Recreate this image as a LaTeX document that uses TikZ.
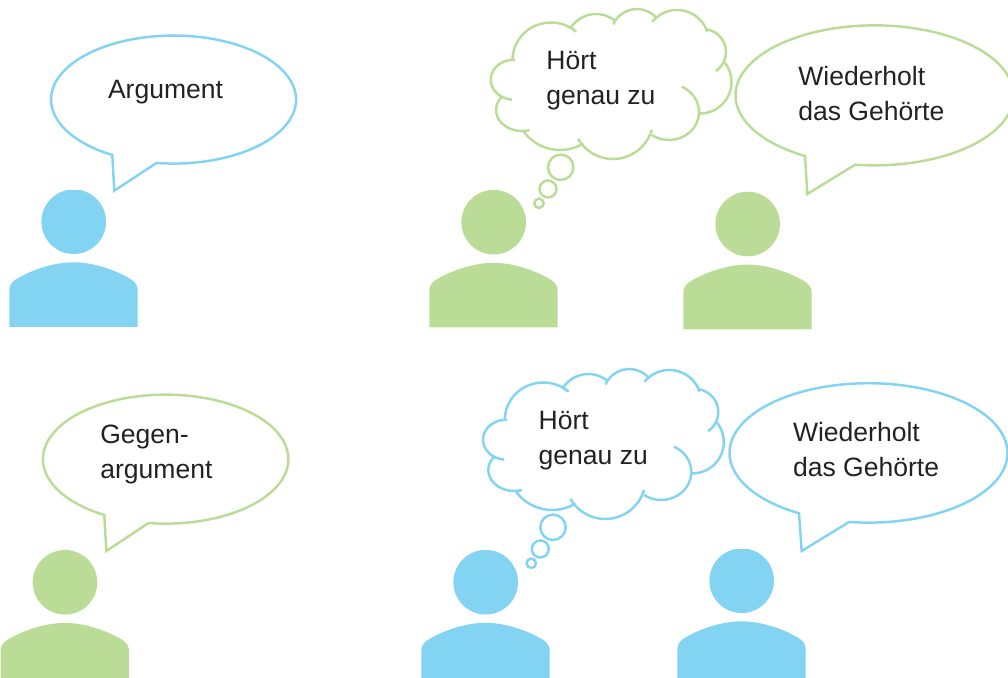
\documentclass[tikz,border=0pt]{standalone}
\usepackage{fontspec}
\setmainfont{Liberation Sans}
\usetikzlibrary{positioning}
\definecolor{myblue}{HTML}{83D3F2}
\definecolor{mygreen}{HTML}{BBDC96}
\definecolor{mytext}{HTML}{222222}

\tikzset{
  saying/.style={anchor=base west, inner sep=0pt, align=left, text=mytext, font=\fontsize{15.1}{20}\selectfont},
  outline/.style={line width=1.4pt, line join=miter}
}

% #1 colour, #2 shift, #3 where the head is cut off
\newcommand{\person}[3]{
  \begin{scope}[shift={#2}]
    \begin{scope}
      \clip (0,#3) rectangle (150,260);
      \fill[#1] (73.7,221.7) circle[radius=32.3];
    \end{scope}
    \fill[#1] (9.3,327) -- (9.3,291) .. controls (9.3,286) and (11,283) .. (15,280) .. controls (28,271.5) and (52,262.3) .. (73.5,262.3) .. controls (95,262.3) and (119,271.5) .. (132,280) .. controls (136,283) and (137.7,286) .. (137.7,291) -- (137.7,327) -- cycle;
  \end{scope}
}

% #1 centre, #2 x radius, #3 y radius, #4 start, #5 end
\newcommand{\lobe}[5]{
  \draw #1 ++(#4:#2 and #3) arc[start angle=#4, end angle=#5, x radius=#2, y radius=#3];
}

% #1 colour, #2 shift
\newcommand{\thought}[2]{
  \begin{scope}[shift={#2}, outline, draw=#1]
    \lobe{(551,60)}{38.5}{37.5}{-49}{-178}
    \lobe{(514,79.7)}{23.3}{20}{-88}{-265}
    \lobe{(522,110)}{26}{21}{218}{73}
    \lobe{(560,105)}{45}{45}{145}{59}
    \lobe{(613,118.7)}{40.3}{40.3}{150}{16}
    \lobe{(669,112)}{30}{28}{125}{-65}
    \lobe{(700,82)}{31.5}{31.5}{91}{-38}
    \lobe{(703,52)}{23}{23}{56}{-85}
    \lobe{(677,42)}{32}{32}{-19}{-141}
    \lobe{(637,35)}{26}{26}{-40}{-156}
    \lobe{(596,44)}{30}{30}{-52}{-150}
    \draw (560.7,167.3) circle[radius=12.7];
    \draw (548,189) circle[radius=8.5];
    \draw (539,203.3) circle[radius=4.7];
  \end{scope}
}

\begin{document}
\begin{tikzpicture}[x=0.02cm, y=-0.02cm]
\useasboundingbox (0,0) rectangle (1008,678);

%Persons
\person{myblue}{(0,0)}{190.5}
\person{mygreen}{(420,0.5)}{190}
\person{mygreen}{(674,2.3)}{180}
\person{mygreen}{(-8.7,360.6)}{180}
\person{myblue}{(412,360.5)}{190}
\person{myblue}{(668,359)}{190.5}

%Speech bubbles
\draw[outline, myblue] (112.3,155) arc[start angle=120, end angle=458, x radius=122.5, y radius=64] -- (114.3,190.7) -- cycle;
\draw[outline, mygreen] (805,156) arc[start angle=120, end angle=458, x radius=139, y radius=70] -- (807.3,194) -- cycle;
\draw[outline, mygreen] (104.3,515) arc[start angle=120, end angle=458, x radius=122.7, y radius=64.5] -- (106.3,551) -- cycle;
\draw[outline, myblue] (799,513.3) arc[start angle=120, end angle=458, x radius=139, y radius=69.7] -- (801.7,551) -- cycle;

%Thought clouds
\thought{mygreen}{(0,0)}
\thought{myblue}{(-7.7,360)}

%Texts
\node (argument) at (107.7,99) [saying] {Argument};
\node (listenA) at (546,105) [saying] {Hört\\genau zu};
\node (repeatA) at (798,120.7) [saying] {Wiederholt\\das Gehörte};
\node (counter) at (100,479) [saying] {Gegen-\\argument};
\node (listenB) at (538.3,465) [saying] {Hört\\genau zu};
\node (repeatB) at (792.7,476.7) [saying] {Wiederholt\\das Gehörte};

\end{tikzpicture}
\end{document}
